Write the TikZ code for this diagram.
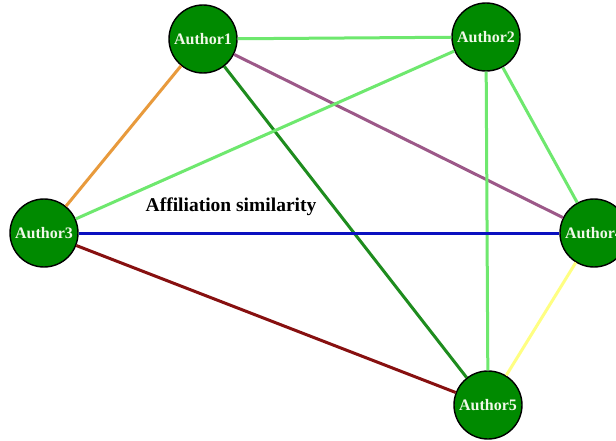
\documentclass[tikz,border=0pt]{standalone}
\usepackage{fontspec}
\setmainfont{Liberation Serif}
\usepackage{xcolor}
\usetikzlibrary{positioning}

\definecolor{nodegreen}{RGB}{0,138,0}
\definecolor{lightlink}{RGB}{110,232,110}
\definecolor{darklink}{RGB}{30,140,30}
\definecolor{orangelink}{RGB}{232,154,60}
\definecolor{purplelink}{RGB}{156,88,136}
\definecolor{bluelink}{RGB}{10,16,192}
\definecolor{redlink}{RGB}{135,16,16}
\definecolor{yellowlink}{RGB}{255,255,130}
\definecolor{labelwhite}{RGB}{240,248,232}

\begin{document}
\begin{tikzpicture}[x=1pt, y=-1pt]
\tikzstyle{author} = [circle, draw=black, line width=1.4pt, fill=nodegreen,
    minimum size=68pt, inner sep=0pt, text=labelwhite,
    font=\fontsize{16}{16}\selectfont\bfseries]
\tikzstyle{link} = [line width=3pt]

\useasboundingbox[fill=white] (0,0) rectangle (616,441);

\node (a1) [author] at (203,39) {Author1};
\node (a2) [author] at (486,37) {Author2};
\node (a3) [author] at (44,233) {Author3};
\node (a4) [author] at (594,233) {Author4};
\node (a5) [author] at (488,405) {Author5};

\node (sim) at (231,207) {\fontsize{19.5}{20}\selectfont\bfseries Affiliation similarity};

\path[link, draw=lightlink] (a1) -- (a2);
\path[link, draw=orangelink] (a1) -- (a3);
\path[link, draw=purplelink] (a1) -- (a4);
\path[link, draw=darklink] (a1) -- (a5);
\path[link, draw=lightlink] (a2) -- (a3);
\path[link, draw=lightlink] (a2) -- (a4);
\path[link, draw=lightlink] (a2) -- (a5);
\path[link, draw=bluelink] (a3) -- (a4);
\path[link, draw=redlink] (a3) -- (a5);
\path[link, draw=yellowlink] (a4) -- (a5);
\end{tikzpicture}
\end{document}
